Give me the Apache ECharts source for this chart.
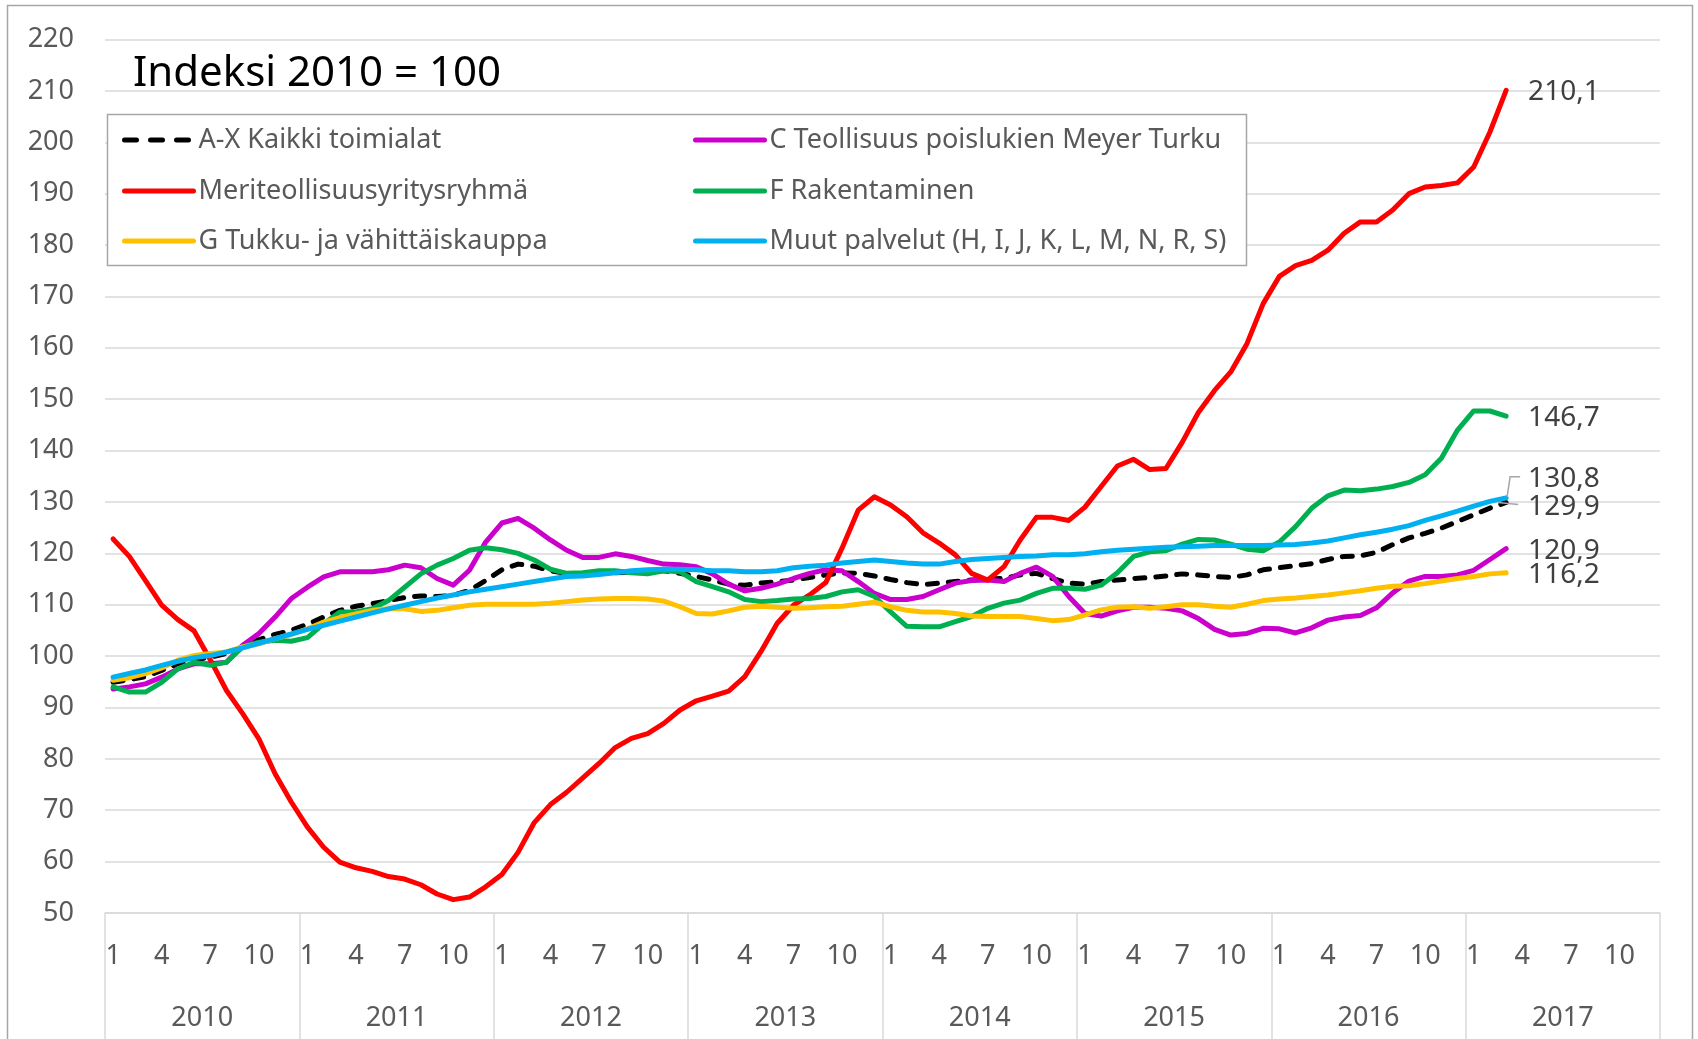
<!DOCTYPE html>
<html><head><meta charset="utf-8">
<script src="https://cdn.jsdelivr.net/npm/echarts@6/dist/echarts.min.js"></script>
<style>html,body{margin:0;padding:0;background:#fff}#c{width:1698px;height:1039px}</style>
</head><body><div id="c"></div>
<script>
const years = ['2010','2011','2012','2013','2014','2015','2016','2017'];
const monthNumbers = ['1','2','3','4','5','6','7','8','9','10','11','12'];
const categories = [];
years.forEach(y => monthNumbers.forEach(m => categories.push(y + '-' + m)));

const yTicks = {min: 50, max: 220, interval: 10};

const nameAX = 'A-X Kaikki toimialat';
const nameC = 'C Teollisuus poislukien Meyer Turku';
const nameMeri = 'Meriteollisuusyritysryhmä';
const nameF = 'F Rakentaminen';
const nameG = 'G Tukku- ja vähittäiskauppa';
const nameMuut = 'Muut palvelut (H, I, J, K, L, M, N, R, S)';

const valuesAX = [94.9,95.4,96.0,97.2,98.5,99.2,99.8,100.5,101.8,103.2,104.2,105.0,
106.2,107.6,108.9,109.7,110.2,110.8,111.4,111.7,111.6,111.8,112.8,114.7,
116.8,117.9,117.5,116.6,116.1,116.0,116.1,116.2,116.4,116.6,116.6,116.1,
115.5,114.8,114.0,113.8,114.2,114.5,114.8,115.3,115.8,116.2,116.1,115.6,
114.9,114.3,113.9,114.2,114.5,114.8,115.0,115.1,115.8,116.1,115.1,114.2,
114.0,114.5,114.8,115.1,115.3,115.6,116.0,115.8,115.5,115.3,115.8,116.8,
117.2,117.6,118.0,118.8,119.4,119.5,120.2,121.7,123.0,123.9,124.9,126.2,
127.5,128.8,129.9];

const valuesC = [93.6,94.0,94.6,95.9,97.5,98.5,98.5,98.8,102.1,104.4,107.6,111.2,
113.4,115.4,116.4,116.4,116.4,116.8,117.7,117.2,115.1,113.8,116.7,122.2,
125.9,126.8,124.9,122.6,120.6,119.2,119.2,119.9,119.4,118.6,117.9,117.8,
117.4,116.0,114.0,112.7,113.2,114.0,115.1,116.1,116.8,116.6,114.5,112.2,
111.0,111.0,111.6,112.9,114.2,114.7,114.8,114.5,116.1,117.3,115.5,111.6,
108.3,107.8,108.8,109.5,109.5,109.3,108.8,107.3,105.2,104.1,104.4,105.4,
105.3,104.5,105.5,107.0,107.6,107.9,109.4,112.3,114.6,115.5,115.5,115.8,
116.7,118.8,120.9];

const valuesMeri = [122.8,119.4,114.7,109.9,107.1,104.9,99.3,93.3,88.8,83.9,77.1,71.6,
66.7,62.8,59.9,58.8,58.1,57.1,56.6,55.5,53.7,52.6,53.1,55.1,
57.5,61.8,67.6,71.1,73.5,76.3,79.1,82.2,84.0,84.9,86.9,89.5,
91.3,92.2,93.2,96.0,100.9,106.4,109.9,111.9,114.3,121.0,128.4,131.0,
129.4,127.1,124.0,122.0,119.7,116.1,114.8,117.4,122.6,127.0,127.0,126.4,
129.0,133.0,137.0,138.3,136.3,136.5,141.6,147.4,151.7,155.3,160.8,168.6,
173.9,176.0,177.0,179.0,182.3,184.5,184.5,186.8,190.0,191.3,191.6,192.1,
195.2,202.0,210.1];

const valuesF = [94.0,93.0,93.0,94.9,97.5,98.8,98.2,98.8,101.8,102.7,103.1,102.9,
103.6,106.3,108.6,108.6,109.2,110.8,113.4,116.0,117.7,119.0,120.6,121.1,
120.7,120.0,118.7,116.9,116.1,116.2,116.6,116.6,116.2,116.0,116.6,116.4,
114.5,113.5,112.5,111.0,110.6,110.8,111.1,111.2,111.6,112.5,112.9,111.6,
108.6,105.8,105.7,105.7,106.7,107.7,109.3,110.3,110.9,112.2,113.2,113.2,
113.0,113.8,116.2,119.4,120.3,120.5,121.8,122.7,122.6,121.8,120.8,120.5,
122.2,125.2,128.8,131.2,132.3,132.2,132.5,133.0,133.8,135.3,138.5,144.0,
147.7,147.7,146.7];

const valuesG = [95.3,95.8,96.6,97.7,99.2,100.1,100.5,100.8,101.8,102.4,103.4,104.2,
105.3,106.6,107.5,108.2,108.9,109.2,109.2,108.7,108.9,109.4,109.9,110.1,
110.1,110.1,110.1,110.3,110.6,110.9,111.1,111.2,111.2,111.1,110.7,109.6,
108.3,108.2,108.8,109.5,109.7,109.5,109.3,109.4,109.6,109.7,110.1,110.5,
109.6,108.9,108.6,108.6,108.3,107.8,107.7,107.7,107.7,107.3,106.9,107.1,
108.0,109.0,109.5,109.6,109.3,109.6,110.0,110.0,109.7,109.5,110.1,110.8,
111.1,111.3,111.6,111.9,112.3,112.7,113.2,113.6,113.7,114.1,114.6,115.1,
115.5,116.0,116.2];

const valuesMuut = [95.9,96.6,97.3,98.2,99.0,99.7,100.1,100.8,101.6,102.5,103.4,104.3,
105.2,106.0,106.8,107.6,108.4,109.2,109.9,110.6,111.3,111.9,112.5,113.0,
113.5,114.0,114.5,115.0,115.5,115.6,115.9,116.2,116.6,116.8,116.9,116.9,
116.8,116.6,116.6,116.4,116.4,116.6,117.2,117.5,117.7,118.1,118.4,118.7,
118.4,118.1,117.9,117.9,118.4,118.8,119.0,119.2,119.4,119.5,119.7,119.7,
119.9,120.3,120.6,120.8,121.0,121.2,121.3,121.4,121.5,121.5,121.5,121.5,
121.6,121.7,122.0,122.4,123.0,123.6,124.1,124.7,125.4,126.4,127.3,128.2,
129.2,130.1,130.8];

const FONT = '"Noto Sans", "Open Sans", sans-serif';
const fmt = v => v.toFixed(1).replace('.', ',');
const LW = 5;

function mkSeries(name, data, color, dashed, labelDy) {
  return {
    name, type: 'line', data, symbol: 'none', smooth: false,
    lineStyle: {color, width: LW, type: dashed ? [10, 11] : 'solid', cap: 'round', join: 'round'},
    itemStyle: {color},
    endLabel: {show: true, formatter: p => fmt(p.value), distance: 22, offset: [0, labelDy],
      fontSize: 28, color: '#404040', fontFamily: FONT},
    emphasis: {disabled: true}
  };
}

const series = [
  mkSeries(nameAX, valuesAX, '#000000', true, 5),
  mkSeries(nameC, valuesC, '#CC00CC', false, 2),
  mkSeries(nameMeri, valuesMeri, '#FF0000', false, 2),
  mkSeries(nameF, valuesF, '#00B050', false, 2),
  mkSeries(nameG, valuesG, '#FFC000', false, 2),
  mkSeries(nameMuut, valuesMuut, '#00B0F0', false, -19)
];

const legendPos = [
  [nameAX, 122, 125, true], [nameC, 693, 125, false],
  [nameMeri, 122, 176, false], [nameF, 693, 176, false],
  [nameG, 122, 226, false], [nameMuut, 693, 226, false]
];
const legends = legendPos.map(([n, l, t, dashed]) => ({
  data: [n], left: l, top: t, padding: 0, itemWidth: 69, itemHeight: 14, itemGap: 0,
  selectedMode: false,
  itemStyle: {color: 'rgba(0,0,0,0)', borderWidth: 0, opacity: 0},
  lineStyle: {width: LW, cap: 'round', type: dashed ? [12, 14] : 'solid'},
  textStyle: {fontSize: 27, color: '#595959', fontFamily: FONT, lineHeight: 30, padding: [0,0,0,0]}
}));

const chart = echarts.init(document.getElementById('c'), null, {renderer: 'canvas'});
chart.setOption({
  animation: false,
  backgroundColor: '#ffffff',
  grid: {left: 105, right: 38, top: 39.5, bottom: 126, containLabel: false},
  legend: legends,
  title: {text: 'Indeksi 2010 = 100', left: 128, top: 48,
    textStyle: {fontSize: 42, fontWeight: 'normal', color: '#000000', fontFamily: FONT}},
  xAxis: [{
    type: 'category', data: categories, boundaryGap: true, position: 'bottom',
    axisLine: {show: false}, axisTick: {show: false},
    axisLabel: {interval: i => i % 3 === 0, formatter: v => v.split('-')[1],
      fontSize: 27, color: '#595959', fontFamily: FONT, margin: 30},
    splitLine: {show: false}
  }, {
    type: 'category', data: years, boundaryGap: true, position: 'bottom', gridIndex: 0,
    axisLine: {show: true, lineStyle: {color: '#d9d9d9', width: 1.5}},
    axisTick: {show: true, interval: 0, length: 130, lineStyle: {color: '#d9d9d9', width: 1.5}},
    axisLabel: {interval: 0, fontSize: 27, color: '#595959', fontFamily: FONT, margin: 92},
    splitLine: {show: false}
  }],
  yAxis: {
    type: 'value', min: yTicks.min, max: yTicks.max, interval: yTicks.interval,
    axisLine: {show: false}, axisTick: {show: false},
    axisLabel: {fontSize: 27, color: '#595959', fontFamily: FONT, margin: 31},
    splitLine: {lineStyle: {color: '#d9d9d9', width: 1.5}}
  },
  series
});

// decorations: outer border, legend frame, leader lines for two end labels
const last = valuesAX.length - 1;
const pMuut = chart.convertToPixel({xAxisIndex: 0, yAxisIndex: 0}, [categories[last], valuesMuut[last]]);
const pAX = chart.convertToPixel({xAxisIndex: 0, yAxisIndex: 0}, [categories[last], valuesAX[last]]);
chart.setOption({
  graphic: [
    {type: 'rect', silent: true, z: -1, shape: {x: 7.5, y: 5.5, width: 1685, height: 1100},
      style: {fill: null, stroke: '#a6a6a6', lineWidth: 1.5}},
    {type: 'rect', silent: true, z: 1, shape: {x: 107.5, y: 114.5, width: 1139, height: 151},
      style: {fill: '#ffffff', stroke: '#a6a6a6', lineWidth: 1.5}},
    {type: 'polyline', silent: true, z: 10, shape: {points: [[pMuut[0] + 1, pMuut[1] - 1], [pMuut[0] + 4, pMuut[1] - 21], [pMuut[0] + 14, pMuut[1] - 21]]},
      style: {stroke: '#a6a6a6', lineWidth: 1.5, fill: null}},
    {type: 'polyline', silent: true, z: 10, shape: {points: [[pAX[0] - 8, pAX[1]], [pAX[0] + 12, pAX[1] + 2]]},
      style: {stroke: '#a6a6a6', lineWidth: 1.5, fill: null}}
  ]
});
</script></body></html>
